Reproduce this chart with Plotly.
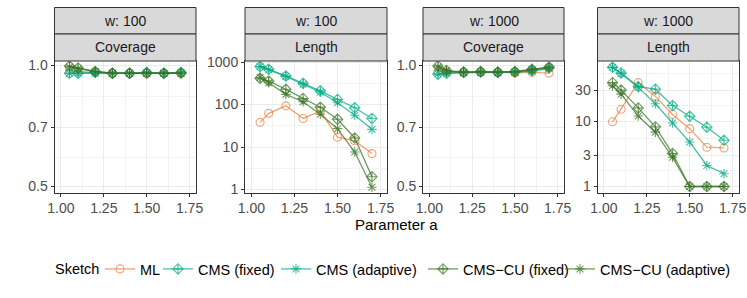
import math
import plotly.graph_objects as go

# ---------------- data ----------------
A = [1.05, 1.1, 1.2, 1.3, 1.4, 1.5, 1.6, 1.7]
SKETCHES = ["ML", "CMS (fixed)", "CMS (adaptive)", "CMS\u2212CU (fixed)", "CMS\u2212CU (adaptive)"]
PANEL_W = ["w: 100", "w: 100", "w: 1000", "w: 1000"]
PANEL_M = ["Coverage", "Length", "Coverage", "Length"]
NOMINAL = 0.95

# w = 100, Coverage
cov100_ml = [0.970, 0.965, 0.960, 0.955, 0.955, 0.955, 0.955, 0.958]
cov100_cms_fixed = [0.955, 0.955, 0.960, 0.955, 0.955, 0.960, 0.955, 0.960]
cov100_cms_adapt = [0.955, 0.955, 0.955, 0.955, 0.955, 0.955, 0.955, 0.955]
cov100_cu_fixed = [0.995, 0.985, 0.965, 0.955, 0.955, 0.955, 0.955, 0.955]
cov100_cu_adapt = [0.990, 0.980, 0.965, 0.955, 0.955, 0.955, 0.955, 0.955]

# w = 100, Length
len100_ml = [38, 62, 93, 47, 70, 17, 14, 7]
len100_cms_fixed = [780, 675, 470, 315, 210, 132, 84, 47]
len100_cms_adapt = [780, 660, 460, 300, 195, 110, 56, 26]
len100_cu_fixed = [415, 357, 228, 139, 86, 45, 16.3, 2.0]
len100_cu_adapt = [430, 325, 173, 116, 59, 27, 7.6, 1.13]

# w = 1000, Coverage
cov1000_ml = [0.965, 0.960, 0.958, 0.960, 0.958, 0.958, 0.960, 0.956]
cov1000_cms_fixed = [0.950, 0.955, 0.960, 0.962, 0.960, 0.962, 0.970, 0.985]
cov1000_cms_adapt = [0.952, 0.955, 0.958, 0.960, 0.958, 0.960, 0.968, 0.980]
cov1000_cu_fixed = [0.996, 0.970, 0.962, 0.965, 0.962, 0.965, 0.977, 0.990]
cov1000_cu_adapt = [0.990, 0.968, 0.960, 0.962, 0.960, 0.962, 0.975, 0.988]

# w = 1000, Length
len1000_ml = [9.8, 15.3, 39, 24, 12.7, 7.7, 4.0, 3.9]
len1000_cms_fixed = [67, 55, 34, 31, 17.4, 11.9, 8.1, 5.1]
len1000_cms_adapt = [67, 54, 33, 18.5, 9.4, 4.8, 2.1, 1.57]
len1000_cu_fixed = [39, 30, 16, 8.2, 3.2, 1, 1, 1]
len1000_cu_adapt = [35, 26, 12, 6.8, 2.8, 1, 1, 1]

PANEL_DATA = [
    [cov100_ml, cov100_cms_fixed, cov100_cms_adapt, cov100_cu_fixed, cov100_cu_adapt],
    [len100_ml, len100_cms_fixed, len100_cms_adapt, len100_cu_fixed, len100_cu_adapt],
    [cov1000_ml, cov1000_cms_fixed, cov1000_cms_adapt, cov1000_cu_fixed, cov1000_cu_adapt],
    [len1000_ml, len1000_cms_fixed, len1000_cms_adapt, len1000_cu_fixed, len1000_cu_adapt],
]

# tick labels
COV_TICKS = [0.5, 0.7, 1.0]
COV_TICKTEXT = ["0.5", "0.7", "1.0"]
LEN100_TICKS = [1, 10, 100, 1000]
LEN1000_TICKS = [1, 3, 10, 30]
X_TICKS = [1.00, 1.25, 1.50, 1.75]

# ---------------- styling ----------------
W, H = 747, 298
COLORS = ["rgba(235,125,60,0.72)", "rgba(0,170,130,0.72)", "rgba(0,170,130,0.72)",
          "rgba(55,115,35,0.72)", "rgba(55,115,35,0.72)"]
SYMBOLS = ["circle-open", "diamond-cross-open", "asterisk-open",
           "diamond-cross-open", "asterisk-open"]
FONT = "Liberation Sans, Arial, sans-serif"
TICK_COL = "#4D4D4D"
DARK = "#333333"

panel_x = [(54.5, 196), (245, 387), (423, 564), (597.5, 739)]
plot_top, plot_bot = 61, 192.5
strip_top, strip_mid = 7.5, 34
legend_sym_x = [120, 178, 296, 443, 580]
LEGEND_IDS = ["legend", "legend2", "legend3", "legend4", "legend5"]

def px(x):
    return x / W

def py(y):
    return 1 - y / H

y_ranges = [
    [math.log10(0.5) - 0.0155, 0.0105],
    [-0.071, 3.024],
    [math.log10(0.5) - 0.0155, 0.0105],
    [-0.092, 1.923],
]
y_ticks = [
    (COV_TICKS, COV_TICKTEXT, [0.59, 0.837]),
    (LEN100_TICKS, [str(v) for v in LEN100_TICKS], [3.16, 31.6, 316]),
    (COV_TICKS, COV_TICKTEXT, [0.59, 0.837]),
    (LEN1000_TICKS, [str(v) for v in LEN1000_TICKS], [1.73, 5.48, 17.3, 54.8]),
]

fig = go.Figure()
shapes = []
annotations = []

for p in range(4):
    xa = "x" if p == 0 else f"x{p+1}"
    ya = "y" if p == 0 else f"y{p+1}"
    for s in range(5):
        fig.add_trace(go.Scatter(
            x=A, y=PANEL_DATA[p][s], xaxis=xa, yaxis=ya,
            mode="lines+markers", name=SKETCHES[s], legendgroup=SKETCHES[s],
            legend=LEGEND_IDS[s], showlegend=(p == 0),
            line=dict(color=COLORS[s], width=1.3),
            marker=dict(symbol=SYMBOLS[s], size=8, color=COLORS[s],
                        line=dict(color=COLORS[s], width=1.1)),
        ))
    axkw = dict(showline=True, mirror=True, linecolor=DARK, linewidth=1,
                ticks="outside", ticklen=3, tickcolor=DARK, tickwidth=1,
                showgrid=True, gridcolor="#EBEBEB", gridwidth=1, automargin=False,
                tickfont=dict(family=FONT, size=14, color=TICK_COL), zeroline=False)
    x0, x1 = panel_x[p]
    xkey = "xaxis" if p == 0 else f"xaxis{p+1}"
    ykey = "yaxis" if p == 0 else f"yaxis{p+1}"
    tv, tt, minor_v = y_ticks[p]
    fig.update_layout(**{
        xkey: dict(domain=[px(x0), px(x1)], anchor=ya, range=[0.9625, 1.7875],
                   tickmode="array", tickvals=X_TICKS, ticktext=[f"{v:.2f}" for v in X_TICKS],
                   minor=dict(tickmode="array", tickvals=[1.125, 1.375, 1.625],
                              showgrid=True, gridcolor="#F3F3F3", gridwidth=0.6, ticks=""),
                   **axkw),
        ykey: dict(domain=[py(plot_bot), py(plot_top)], anchor=xa, type="log",
                   range=y_ranges[p], tickmode="array", tickvals=tv, ticktext=tt,
                   minor=dict(tickmode="array", tickvals=minor_v,
                              showgrid=True, gridcolor="#F3F3F3", gridwidth=0.6, ticks=""),
                   **axkw),
    })
    # strips
    for (t0, t1, label) in [(strip_top, strip_mid, PANEL_W[p]), (strip_mid, plot_top, PANEL_M[p])]:
        shapes.append(dict(type="rect", xref="paper", yref="paper",
                           x0=px(x0), x1=px(x1), y0=py(t1), y1=py(t0),
                           fillcolor="#D9D9D9", line=dict(color=DARK, width=1), layer="above"))
        annotations.append(dict(text=label, xref="paper", yref="paper",
                                x=px((x0 + x1) / 2), y=py((t0 + t1) / 2),
                                xanchor="center", yanchor="middle", showarrow=False,
                                font=dict(family=FONT, size=14, color="#1A1A1A")))
    if PANEL_M[p] == "Coverage":
        shapes.append(dict(type="line", xref=f"{xa} domain", yref=ya, x0=0, x1=1,
                           y0=math.log10(NOMINAL), y1=math.log10(NOMINAL),
                           line=dict(color="#6E6E6E", width=1, dash="dash"), layer="below"))

annotations.append(dict(text="Parameter a", xref="paper", yref="paper",
                        x=px(397), y=py(224), xanchor="center", yanchor="middle",
                        showarrow=False, font=dict(family=FONT, size=15, color="#000000")))
annotations.append(dict(text="Sketch", xref="paper", yref="paper",
                        x=px(53), y=py(269), xanchor="left", yanchor="middle",
                        showarrow=False, font=dict(family=FONT, size=14.5, color="#000000")))

legends = {}
for i, lid in enumerate(LEGEND_IDS):
    legends[lid] = dict(orientation="h", x=px(legend_sym_x[i] - 20), xanchor="left",
                        y=py(269), yanchor="middle", itemwidth=30,
                        font=dict(family=FONT, size=14.5, color="#000000"),
                        bgcolor="rgba(0,0,0,0)", borderwidth=0)

fig.update_layout(
    width=W, height=H, margin=dict(l=0, r=0, t=0, b=0, autoexpand=False),
    paper_bgcolor="white", plot_bgcolor="white",
    shapes=shapes, annotations=annotations,
    showlegend=True, **legends,
)

fig.write_html("out.html", config={"displayModeBar": False},
               post_script="document.body.style.margin='0px';")
